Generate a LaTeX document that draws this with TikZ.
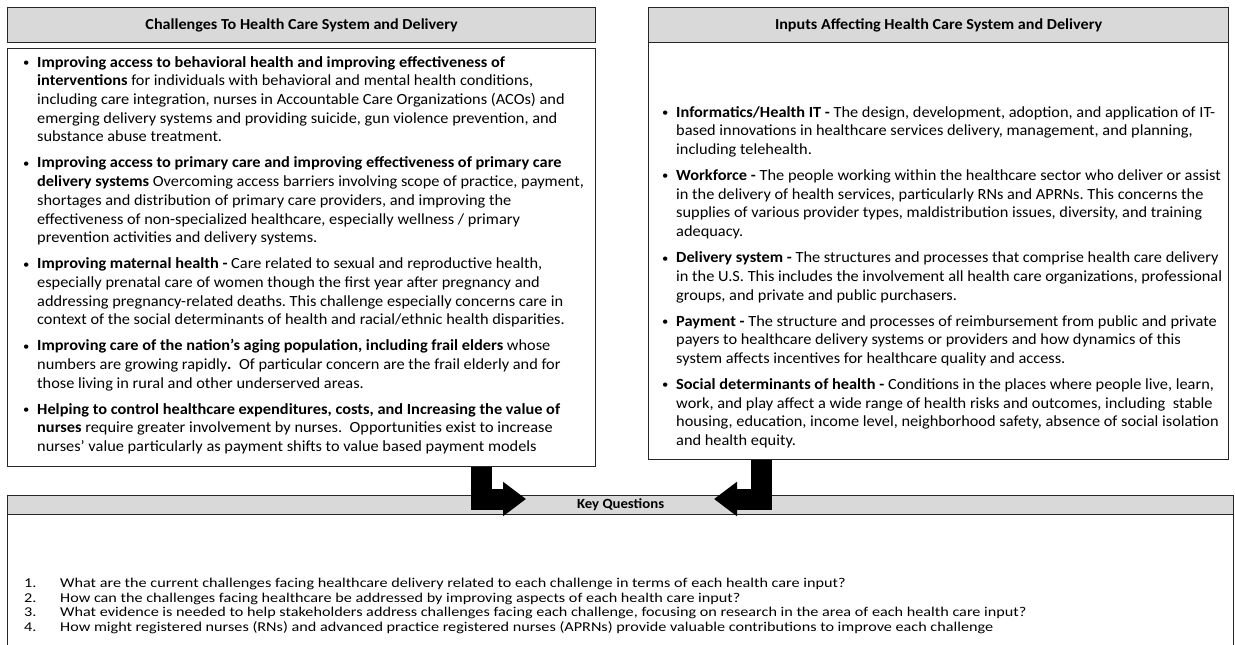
\documentclass[tikz,border=0pt]{standalone}
\usepackage{fontspec}
\setmainfont{Carlito}[FakeStretch=1.055]
\newfontfamily\qfont{Carlito}[FakeStretch=1.2]
\usetikzlibrary{positioning,calc,arrows.meta}

\definecolor{headgray}{RGB}{217,217,217}
\definecolor{edgegray}{RGB}{38,38,38}

\newcommand{\bul}{\makebox[14pt][l]{\fontsize{12}{12}\selectfont\raisebox{0.6pt}{•}}}
\newcommand{\ind}{\hspace*{14pt}}
\newcommand{\qnum}[1]{\makebox[36pt][l]{#1}}

\tikzset{
  headbox/.style={draw=edgegray, line width=1.2pt, fill=headgray, anchor=north west,
    inner sep=0pt, font=\bfseries\fontsize{15.3}{17}\selectfont},
  bodybox/.style={draw=edgegray, line width=1.2pt, fill=white, anchor=north west, inner sep=0pt},
  bodytext/.style={anchor=north west, inner sep=0pt, align=left,
    font=\frenchspacing\fontsize{15.5}{18.7}\selectfont},
  qtext/.style={anchor=north west, inner sep=0pt, align=left,
    font=\frenchspacing\qfont\fontsize{13.5}{14.5}\selectfont},
  bigarrow/.style={line width=21pt, -{Triangle[length=23pt,width=33pt]}}
}

\begin{document}
\begin{tikzpicture}[x=1pt,y=-1pt]
    \useasboundingbox (0,0) rectangle (1235,645);

    % Challenges (left)
    \node[headbox, minimum width=588pt, minimum height=35pt] (chalhead) at (7,7)
        {Challenges To Health Care System and Delivery};
    \node[bodybox, minimum width=588pt, minimum height=418pt] (chalbox) at (7,48) {};
    \node[bodytext] (chaltext) at (23,56) {%
        \bul\textbf{Improving access to behavioral health and improving effectiveness of}\\
        \ind\textbf{interventions} for individuals with behavioral and mental health conditions,\\
        \ind including care integration, nurses in Accountable Care Organizations (ACOs) and\\
        \ind emerging delivery systems and providing suicide, gun violence prevention, and\\
        \ind substance abuse treatment.\\[7.3pt]
        \bul\textbf{Improving access to primary care and improving effectiveness of primary care}\\
        \ind\textbf{delivery systems} Overcoming access barriers involving scope of practice, payment,\\
        \ind shortages and distribution of primary care providers, and improving the\\
        \ind effectiveness of non-specialized healthcare, especially wellness / primary\\
        \ind prevention activities and delivery systems.\\[7.3pt]
        \bul\textbf{Improving maternal health -} Care related to sexual and reproductive health,\\
        \ind especially prenatal care of women though the first year after pregnancy and\\
        \ind addressing pregnancy-related deaths. This challenge especially concerns care in\\
        \ind context of the social determinants of health and racial/ethnic health disparities.\\[7.3pt]
        \bul\textbf{Improving care of the nation’s aging population, including frail elders} whose\\
        \ind numbers are growing rapidly\textbf{.}\ \ Of particular concern are the frail elderly and for\\
        \ind those living in rural and other underserved areas.\\[7.3pt]
        \bul\textbf{Helping to control healthcare expenditures, costs, and Increasing the value of}\\
        \ind\textbf{nurses} require greater involvement by nurses.\ \ Opportunities exist to increase\\
        \ind nurses’ value particularly as payment shifts to value based payment models};

    % Inputs (right)
    \node[bodybox, minimum width=580pt, minimum height=452pt] (inputbox) at (648,7) {};
    \node[headbox, minimum width=580pt, minimum height=35pt] (inputhead) at (648,7)
        {Inputs Affecting Health Care System and Delivery};
    \node[bodytext] (inputtext) at (662,106) {%
        \bul\textbf{Informatics/Health IT -} The design, development, adoption, and application of IT-\\
        \ind based innovations in healthcare services delivery, management, and planning,\\
        \ind including telehealth.\\[7.3pt]
        \bul\textbf{Workforce -} The people working within the healthcare sector who deliver or assist\\
        \ind in the delivery of health services, particularly RNs and APRNs. This concerns the\\
        \ind supplies of various provider types, maldistribution issues, diversity, and training\\
        \ind adequacy.\\[7.3pt]
        \bul\textbf{Delivery system -} The structures and processes that comprise health care delivery\\
        \ind in the U.S. This includes the involvement all health care organizations, professional\\
        \ind groups, and private and public purchasers.\\[7.3pt]
        \bul\textbf{Payment -} The structure and processes of reimbursement from public and private\\
        \ind payers to healthcare delivery systems or providers and how dynamics of this\\
        \ind system affects incentives for healthcare quality and access.\\[7.3pt]
        \bul\textbf{Social determinants of health -} Conditions in the places where people live, learn,\\
        \ind work, and play affect a wide range of health risks and outcomes, including\ \ stable\\
        \ind housing, education, income level, neighborhood safety, absence of social isolation\\
        \ind and health equity.};

    % Key questions (bottom)
    \node[bodybox, minimum width=1226pt, minimum height=140pt] (qbox) at (7,514) {};
    \node[headbox, minimum width=1226pt, minimum height=19pt, font=\bfseries\fontsize{14}{15}\selectfont]
        (qhead) at (7,495) {Key Questions};
    \node[qtext] (qlist) at (24,578) {%
        \qnum{1.}What are the current challenges facing healthcare delivery related to each challenge in terms of each health care input?\\
        \qnum{2.}How can the challenges facing healthcare be addressed by improving aspects of each health care input?\\
        \qnum{3.}What evidence is needed to help stakeholders address challenges facing each challenge, focusing on research in the area of each health care input?\\
        \qnum{4.}How might registered nurses (RNs) and advanced practice registered nurses (APRNs) provide valuable contributions to improve each challenge};

    % Bent arrows into the key questions
    \coordinate (ltip) at (526,499);
    \coordinate (rtip) at (714,499);
    \draw[bigarrow] ([xshift=179.5pt]chalbox.south) |- (ltip);
    \draw[bigarrow] ([xshift=-177pt]inputbox.south) |- (rtip);
\end{tikzpicture}
\end{document}
